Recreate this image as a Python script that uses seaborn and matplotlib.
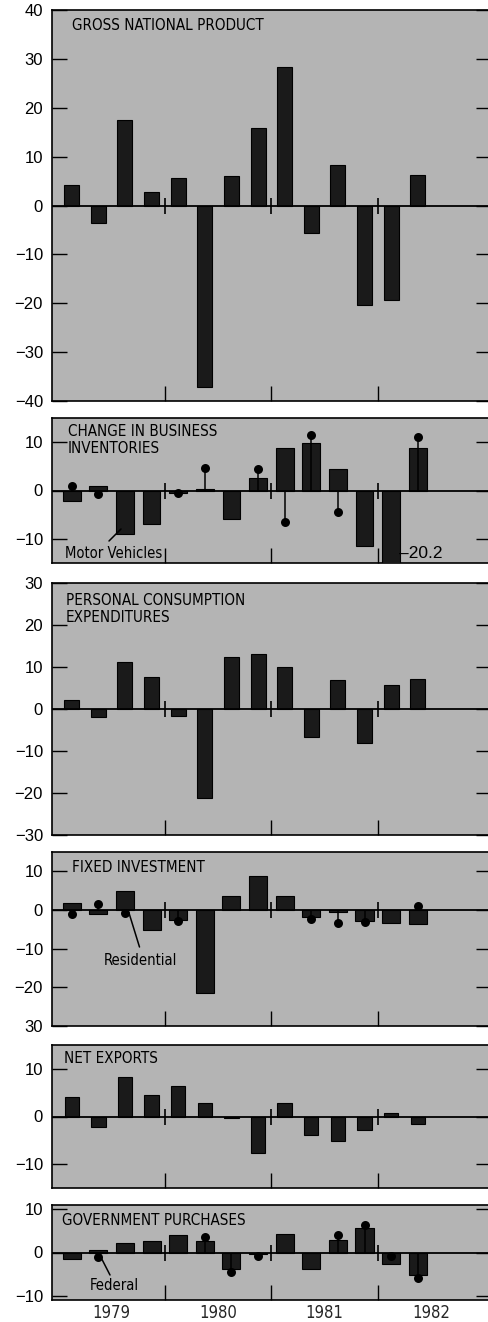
import numpy as np
import pandas as pd
import matplotlib
matplotlib.use("Agg")
import matplotlib.pyplot as plt
from matplotlib.lines import Line2D
from matplotlib import font_manager as fm
import seaborn as sns

nan = np.nan

# ---------------- data ----------------
quarters = ["1979Q1", "1979Q2", "1979Q3", "1979Q4",
            "1980Q1", "1980Q2", "1980Q3", "1980Q4",
            "1981Q1", "1981Q2", "1981Q3", "1981Q4",
            "1982Q1", "1982Q2"]
years = ["1979", "1980", "1981", "1982"]

gnp = [4.2, -3.5, 17.5, 2.7, 5.6, -37.1, 6.1, 15.8, 28.4, -5.6, 8.3, -20.3, -19.4, 6.3]
inventories = [-2.2, 1.0, -8.9, -7.0, -0.5, 0.3, -5.8, 2.6, 8.8, 9.8, 4.5, -11.5, -20.2, 8.8]
motor_vehicles = [0.9, -0.8, nan, nan, -0.6, 4.6, nan, 4.5, -6.5, 11.5, -4.5, nan, nan, 11.0]
pce = [2.2, -2.0, 11.3, 7.6, -1.7, -21.3, 12.3, 13.1, 10.1, -6.6, 6.9, -8.2, 5.7, 7.2]
fixed_investment = [1.9, -1.0, 4.8, -5.2, -2.6, -21.4, 3.5, 8.7, 3.6, -1.7, -0.5, -2.8, -3.3, -3.5]
residential = [-1.0, 1.5, -0.7, nan, -2.9, nan, nan, nan, nan, -2.3, -3.3, -3.0, nan, 1.0]
net_exports = [4.1, -2.1, 8.3, 4.5, 6.4, 2.9, -0.3, -7.6, 2.8, -3.9, -5.2, -2.9, 0.7, -1.5]
government = [-1.6, 0.5, 2.1, 2.7, 4.1, 2.7, -3.8, -0.3, 4.2, -3.8, 2.9, 5.6, -2.6, -5.3]
federal = [nan, -1.0, nan, nan, nan, 3.5, -4.4, -0.9, nan, nan, 4.1, 6.4, -0.8, -5.9]

titles = ["GROSS NATIONAL PRODUCT",
          "CHANGE IN BUSINESS\nINVENTORIES",
          "PERSONAL CONSUMPTION\nEXPENDITURES",
          "FIXED INVESTMENT",
          "NET EXPORTS",
          "GOVERNMENT PURCHASES"]

gnp_ticks = [40, 30, 20, 10, 0, -10, -20, -30, -40]
gnp_labels = ["40", "30", "20", "10", "0", "\u221210", "\u221220", "\u221230", "\u221240"]
inv_ticks = [10, 0, -10]
inv_labels = ["10", "0", "\u221210"]
pce_ticks = [30, 20, 10, 0, -10, -20, -30]
pce_labels = ["30", "20", "10", "0", "\u221210", "\u221220", "\u221230"]
fi_ticks = [10, 0, -10, -20, -30]
fi_labels = ["10", "0", "\u221210", "\u221220", "30"]
nx_ticks = [10, 0, -10]
nx_labels = ["10", "0", "\u221210"]
gov_ticks = [10, 0, -10]
gov_labels = ["10", "0", "\u221210"]

# ---------------- style ----------------
sns.set_theme(style="white")
plt.rcParams["font.family"] = ["Liberation Sans", "DejaVu Sans"]

# pick a condensed face if one is installed
names = {f.name for f in fm.fontManager.ttflist}
cond = [(f.name, f.stretch) for f in fm.fontManager.ttflist
        if f.stretch in ("condensed", "semi-condensed", "extra-condensed")
        or "Narrow" in f.name or "Condensed" in f.name]
if "Liberation Sans Narrow" in names:
    NARROW = dict(family=["Liberation Sans Narrow", "DejaVu Sans"])
    S_TITLE, S_ANN, S_YEAR = 12, 12.5, 12.5
elif any(n == "DejaVu Sans" and s == "condensed" for n, s in cond):
    NARROW = dict(family=["DejaVu Sans"], stretch="condensed")
    S_TITLE, S_ANN, S_YEAR = 10.9, 10.6, 12
else:
    NARROW = dict(family=["Liberation Sans", "DejaVu Sans"])
    S_TITLE, S_ANN, S_YEAR = 9.9, 10.8, 11.5

BG = "#b4b4b4"
BAR = "#1a1a1a"

W, H = 489, 1322
fig = plt.figure(figsize=(W / 100, H / 100), dpi=100)
fig.patch.set_facecolor("white")

# (top px, bottom px, ylim, bar width, ticks, labels, bars, dots)
panels = [
    (10, 401, (-40, 40), 0.56, gnp_ticks, gnp_labels, gnp, None),
    (418, 563, (-15, 15), 0.67, inv_ticks, inv_labels, inventories, motor_vehicles),
    (583, 835, (-30, 30), 0.56, pce_ticks, pce_labels, pce, None),
    (852, 1026, (-30, 15), 0.68, fi_ticks, fi_labels, fixed_investment, residential),
    (1045, 1188, (-15, 15), 0.54, nx_ticks, nx_labels, net_exports, None),
    (1205, 1300, (-11, 11), 0.68, gov_ticks, gov_labels, government, federal),
]

n = len(quarters)
year_div = [3.5, 7.5, 11.5]
year_mid = [1.5, 5.5, 9.5, 13.5]
left_px = 52
axes = []
for i, (top, bot, ylim, bw, ticks, labels, bars, dots) in enumerate(panels):
    ax = fig.add_axes([left_px / W, 1 - bot / H, (W + 2 - left_px) / W, (bot - top) / H])
    axes.append(ax)
    ax.set_facecolor(BG)
    df = pd.DataFrame({"quarter": quarters, "value": bars})
    sns.barplot(data=df, x="quarter", y="value", order=quarters, color=BAR,
                saturation=1, width=bw, edgecolor="black", linewidth=0.8,
                errorbar=None, ax=ax, zorder=3)
    ax.axhline(0, color="black", lw=1.3, zorder=4)
    if dots is not None:
        d = np.array(dots, dtype=float)
        idx = np.arange(n)
        ok = ~np.isnan(d)
        ax.vlines(idx[ok], 0, d[ok], color="black", lw=1.1, zorder=5)
        sns.scatterplot(x=idx[ok], y=d[ok], color="black", s=42, linewidth=0,
                        ax=ax, zorder=6, legend=False)
    # zero crossing year marks
    ax.plot(year_div, [0] * len(year_div), ls="none", marker="|", markersize=11.5,
            mew=1.2, color="black", zorder=5)
    ax.set_xlim(-0.74, 15.75)
    ax.set_ylim(*ylim)
    ax.set_yticks(ticks)
    ax.set_yticklabels(labels)
    ax.set_xticks(year_div)
    ax.set_xticklabels([])
    ax.set_xlabel("")
    ax.set_ylabel("")
    ax.tick_params(axis="y", which="major", direction="in", length=10.5, width=1.0,
                   left=True, right=True, labelsize=12, pad=6.5, colors="black")
    ax.tick_params(axis="x", which="major", direction="in", length=11, width=1.0,
                   bottom=True, top=False, colors="black")
    for s in ["left", "top", "bottom"]:
        ax.spines[s].set_visible(True)
        ax.spines[s].set_color("black")
        ax.spines[s].set_linewidth(1.2)
    ax.spines["right"].set_visible(False)

# year labels on the last panel
axl = axes[-1]
axl.set_xticks(year_mid, minor=True)
axl.set_xticklabels(years, minor=True, fontsize=S_YEAR, **NARROW)
axl.tick_params(axis="x", which="minor", length=0, pad=3)

# ---------------- text ----------------
def ftxt(x, y, s, size, font=None, **kw):
    font = NARROW if font is None else font
    fig.text(x / W, 1 - y / H, s, fontsize=size, va="baseline", ha="left",
             color="black", **font, **kw)

ftxt(72, 30.5, titles[0], S_TITLE)
ftxt(68, 436.5, "CHANGE IN BUSINESS", S_TITLE)
ftxt(68, 453, "INVENTORIES", S_TITLE)
ftxt(66, 605, "PERSONAL CONSUMPTION", S_TITLE)
ftxt(66, 622, "EXPENDITURES", S_TITLE)
ftxt(72, 871.5, titles[3], S_TITLE)
ftxt(64, 1063, titles[4], S_TITLE)
ftxt(62, 1225, titles[5], S_TITLE)

ftxt(65, 558, "Motor Vehicles", S_ANN)
ftxt(399, 558, "\u201320.2", 12.5, font=dict(family=["Liberation Sans", "DejaVu Sans"]))
ftxt(104, 965, "Residential", S_ANN)
ftxt(90, 1290, "Federal", S_ANN)

def fline(x0, y0, x1, y1):
    fig.add_artist(Line2D([x0 / W, x1 / W], [1 - y0 / H, 1 - y1 / H],
                          color="black", lw=1.1, transform=fig.transFigure))

fline(109, 541, 121, 529)
fline(139.5, 947, 129, 913)
fline(110, 1275, 100.5, 1256.5)

fig.savefig("out.png", dpi=100, facecolor="white")
